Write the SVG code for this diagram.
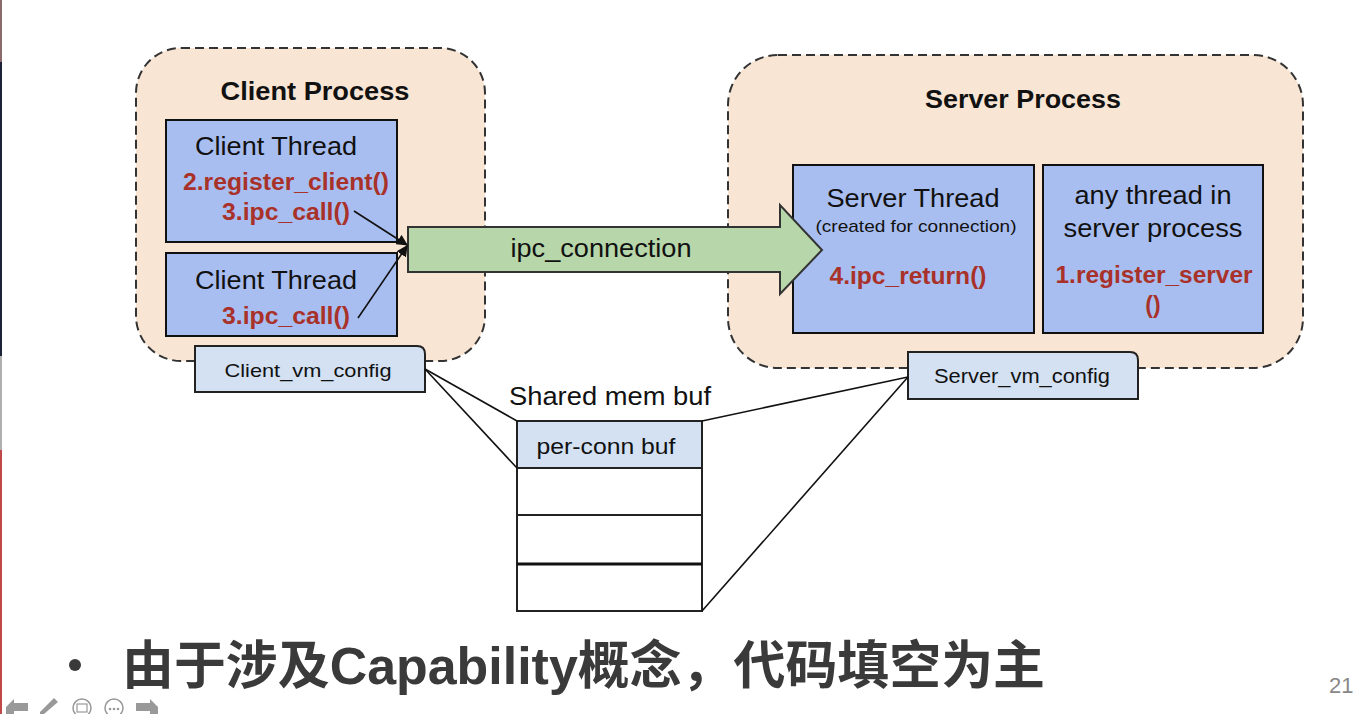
<svg xmlns="http://www.w3.org/2000/svg" width="1354" height="714" viewBox="0 0 1354 714">
<style>
.proc{fill:#f9e5d4;stroke:#333;stroke-width:2;stroke-dasharray:9 5}
.thr{fill:#a9bef0;stroke:#111;stroke-width:2}
.cfg{fill:#d3e1f3;stroke:#222;stroke-width:2}
.buf{fill:#fff;stroke:#222;stroke-width:2}
.t{font-family:"Liberation Sans",Arial,sans-serif;fill:#111}
.b{font-weight:bold}
.red{font-family:"Liberation Sans",Arial,sans-serif;font-weight:bold;fill:#a8322a}
.ln{stroke:#111;stroke-width:1.6;fill:none}
</style>
<defs>
<marker id="ah" viewBox="0 0 10 10" refX="9" refY="5" markerWidth="7" markerHeight="7" orient="auto-start-reverse">
<path d="M0,0 L10,5 L0,10 z" fill="#111"/>
</marker>
</defs>
<rect width="1354" height="714" fill="#fff"/>
<g id="edge">
<rect x="0" y="0" width="2" height="62" fill="#8a6a6a"/>
<rect x="0" y="62" width="2" height="294" fill="#1c2336"/>
<rect x="0" y="356" width="2" height="94" fill="#b0b0b0"/>
<rect x="0" y="450" width="2" height="264" fill="#c04848"/>
</g>
<g id="client-process">
<rect class="proc" x="136" y="48" width="349" height="313" rx="45"/>
<text class="t b" x="315" y="100" font-size="25" text-anchor="middle" textLength="189" lengthAdjust="spacingAndGlyphs">Client Process</text>
</g>
<g id="server-process">
<rect class="proc" x="728" y="55" width="575" height="313" rx="50"/>
<text class="t b" x="1023" y="108" font-size="25" text-anchor="middle" textLength="196" lengthAdjust="spacingAndGlyphs">Server Process</text>
</g>
<g id="client-thread-1">
<rect class="thr" x="166" y="120" width="231" height="122"/>
<text class="t" x="276" y="155" font-size="26" text-anchor="middle" textLength="162" lengthAdjust="spacingAndGlyphs">Client Thread</text>
<text class="red" x="286" y="190" font-size="23" text-anchor="middle" textLength="206" lengthAdjust="spacingAndGlyphs">2.register_client()</text>
<text class="red" x="286" y="220" font-size="23" text-anchor="middle" textLength="128" lengthAdjust="spacingAndGlyphs">3.ipc_call()</text>
</g>
<g id="client-thread-2">
<rect class="thr" x="166" y="253" width="231" height="83"/>
<text class="t" x="276" y="289" font-size="26" text-anchor="middle" textLength="162" lengthAdjust="spacingAndGlyphs">Client Thread</text>
<text class="red" x="286" y="324" font-size="23" text-anchor="middle" textLength="128" lengthAdjust="spacingAndGlyphs">3.ipc_call()</text>
</g>
<g id="server-thread">
<rect class="thr" x="793" y="165" width="241" height="168"/>
<text class="t" x="913" y="207" font-size="25" text-anchor="middle" textLength="173" lengthAdjust="spacingAndGlyphs">Server Thread</text>
<text class="t" x="916" y="232" font-size="17" text-anchor="middle" textLength="201" lengthAdjust="spacingAndGlyphs">(created for connection)</text>
<text class="red" x="908" y="284" font-size="23" text-anchor="middle" textLength="157" lengthAdjust="spacingAndGlyphs">4.ipc_return()</text>
</g>
<g id="any-thread">
<rect class="thr" x="1043" y="165" width="220" height="168"/>
<text class="t" x="1153" y="204" font-size="25" text-anchor="middle" textLength="157" lengthAdjust="spacingAndGlyphs">any thread in</text>
<text class="t" x="1153" y="237" font-size="25" text-anchor="middle" textLength="179" lengthAdjust="spacingAndGlyphs">server process</text>
<text class="red" x="1154" y="283" font-size="23" text-anchor="middle" textLength="197" lengthAdjust="spacingAndGlyphs">1.register_server</text>
<text class="red" x="1153" y="313" font-size="23" text-anchor="middle">()</text>
</g>
<g id="ipc-connection">
<polygon points="408,227 780,227 780,205 822,250 780,294 780,272 408,272" fill="#b7d6a9" stroke="#333" stroke-width="2"/>
<text class="t" x="601" y="257" font-size="25" text-anchor="middle" textLength="181" lengthAdjust="spacingAndGlyphs">ipc_connection</text>
</g>
<g id="client-vm-config">
<path class="cfg" d="M195,346 H417 Q425,346 425,354 V392 H195 Z"/>
<text class="t" x="308" y="377" font-size="19" text-anchor="middle" textLength="167" lengthAdjust="spacingAndGlyphs">Client_vm_config</text>
</g>
<g id="server-vm-config">
<path class="cfg" d="M908,352 H1130 Q1138,352 1138,360 V399 H908 Z"/>
<text class="t" x="1022" y="383" font-size="20" text-anchor="middle" textLength="176" lengthAdjust="spacingAndGlyphs">Server_vm_config</text>
</g>
<g id="shared-mem-buf">
<text class="t" x="610" y="405" font-size="25" text-anchor="middle" textLength="202" lengthAdjust="spacingAndGlyphs">Shared mem buf</text>
<rect x="517" y="421" width="185" height="47" fill="#d3e1f3" stroke="#222" stroke-width="2"/>
<text class="t" x="606" y="454" font-size="22" text-anchor="middle" textLength="139" lengthAdjust="spacingAndGlyphs">per-conn buf</text>
<rect class="buf" x="517" y="468" width="185" height="47"/>
<rect class="buf" x="517" y="515" width="185" height="49"/>
<rect class="buf" x="517" y="564" width="185" height="47"/>
<line x1="517" y1="564" x2="702" y2="564" stroke="#111" stroke-width="3"/>
</g>
<g id="connectors">
<line class="ln" x1="354" y1="211" x2="407" y2="245" marker-end="url(#ah)"/>
<line class="ln" x1="358" y1="318" x2="407" y2="246" marker-end="url(#ah)"/>
<line class="ln" x1="425" y1="369" x2="517" y2="421"/>
<line class="ln" x1="425" y1="369" x2="517" y2="468"/>
<line class="ln" x1="908" y1="377" x2="702" y2="421"/>
<line class="ln" x1="908" y1="377" x2="702" y2="611"/>
</g>
<g id="footer">
<circle cx="75" cy="665" r="6" fill="#3a3a3a"/>
<text x="122" y="684" font-size="52" font-weight="bold" fill="#3a3a3a" font-family="'Liberation Sans','Noto Sans CJK SC',sans-serif" textLength="923" lengthAdjust="spacingAndGlyphs">由于涉及Capability概念，代码填空为主</text>
<text x="1329" y="693" font-size="22" fill="#888" font-family="'Liberation Sans',Arial,sans-serif">21</text>
</g>
<g id="nav-icons" fill="#999">
<polygon points="6,707 14,699 14,703 28,703 28,711 14,711 14,714 6,714"/>
<polygon points="40,712 54,698 58,702 44,714 40,714" />
<circle cx="82" cy="708" r="9" fill="none" stroke="#999" stroke-width="1.5"/>
<rect x="77" y="704" width="10" height="8" fill="none" stroke="#999" stroke-width="1.2"/>
<circle cx="114" cy="708" r="9" fill="none" stroke="#999" stroke-width="1.5"/>
<circle cx="110" cy="709" r="1.3"/><circle cx="114" cy="709" r="1.3"/><circle cx="118" cy="709" r="1.3"/>
<polygon points="158,707 150,699 150,703 136,703 136,711 150,711 150,714 158,714"/>
</g>
</svg>
